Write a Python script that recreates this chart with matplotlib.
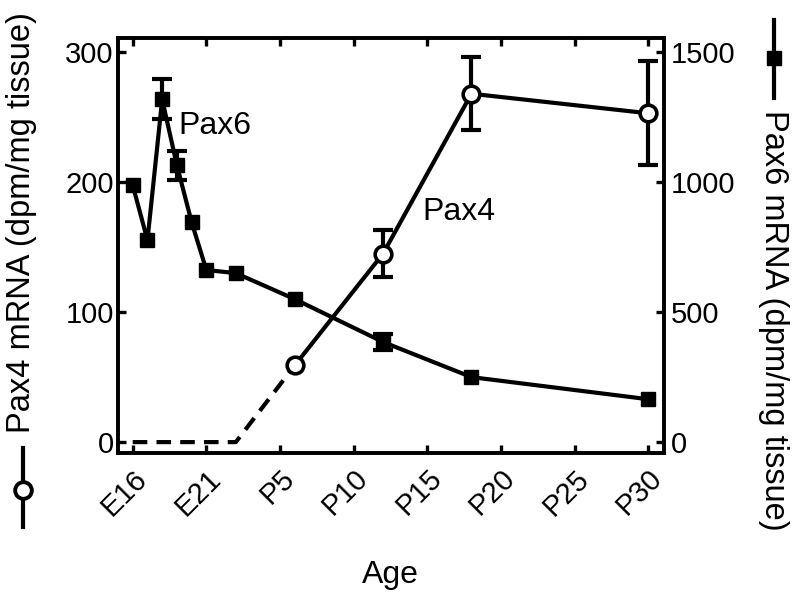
import matplotlib.pyplot as plt
from matplotlib.lines import Line2D
import numpy as np

plt.rcParams['font.family'] = ['Liberation Sans', 'DejaVu Sans']

# 横轴刻度 (E16 = 0, 每 5 天一格)
tick_pos = [0, 5, 10, 15, 20, 25, 30, 35]
tick_labels = ['E16', 'E21', 'P5', 'P10', 'P15', 'P20', 'P25', 'P30']

# Pax4 (左轴): 虚线段为检测不到的部分
pax4_dash_x = [0, 7, 11]
pax4_dash_y = [0, 0, 59]
pax4_x = [11, 17, 23, 35]
pax4_y = [59, 145, 268, 253]
pax4_err = [0, 18, 28, 40]

# Pax6 (右轴)
pax6_x = [0, 1, 2, 3, 4, 5, 7, 11, 17, 23, 35]
pax6_y = [988, 777, 1318, 1065, 846, 662, 650, 550, 385, 250, 165]
pax6_err = [0, 0, 77, 55, 0, 0, 0, 0, 31, 0, 0]

lw = 3.0
fig = plt.figure(figsize=(8, 6.01), dpi=100)
ax = fig.add_axes([0.1475, 0.246, 0.682, 0.691])
ax2 = ax.twinx()


def draw_series(a, x, y, err, **mk):
    x = np.array(x)
    y = np.array(y)
    err = np.array(err)
    m = err > 0
    a.errorbar(x[m], y[m], yerr=err[m], fmt='none', ecolor='black',
               elinewidth=lw, capsize=7.5, capthick=lw, zorder=2)
    a.plot(x, y, color='black', lw=lw, zorder=3, **mk)


ax.plot(pax4_dash_x, pax4_dash_y, color='black', lw=lw, ls=(0, (3.5, 2.2)), zorder=2)
draw_series(ax, pax4_x, pax4_y, pax4_err, marker='o', ms=12, mfc='white',
            mec='black', mew=2.6)
draw_series(ax2, pax6_x, pax6_y, pax6_err, marker='s', ms=9.5, mfc='black',
            mec='black')

ax.set_xlim(-1, 36.05)
ax.set_ylim(-8.5, 311)
ax2.set_ylim(-42.5, 1555)

ax.set_xticks(tick_pos)
ax.set_xticklabels(tick_labels, rotation=45, ha='right', rotation_mode='anchor')
ax.set_yticks([0, 100, 200, 300])
ax2.set_yticks([0, 500, 1000, 1500])

for a in (ax, ax2):
    for s in a.spines.values():
        s.set_linewidth(2.6)
ax.tick_params(axis='x', top=True, direction='in', length=6, width=2.4,
               labelsize=21, pad=8)
ax.tick_params(axis='y', direction='in', length=6, width=2.4, labelsize=21, pad=3)
ax2.tick_params(axis='y', direction='in', length=6, width=2.4, labelsize=21, pad=5)

ax.set_xlabel('Age', fontsize=23, labelpad=28)

ax.text(3.1, 243, 'Pax6', fontsize=23, va='center', ha='left')
ax.text(19.7, 177, 'Pax4', fontsize=23, va='center', ha='left')

# 轴标题与图例符号
fig.text(22 / 800, 1 - 223 / 601, 'Pax4 mRNA (dpm/mg tissue)', rotation=90,
         fontsize=23.5, ha='center', va='center')
fig.text(774 / 800, 1 - 320 / 601, 'Pax6 mRNA (dpm/mg tissue)', rotation=270,
         fontsize=23.5, ha='center', va='center')

fig.add_artist(Line2D([23 / 800, 23 / 800], [1 - 448 / 601, 1 - 527 / 601],
                      color='black', lw=lw, transform=fig.transFigure))
fig.add_artist(Line2D([23 / 800], [1 - 490 / 601], marker='o', ms=12, mfc='white',
                      mec='black', mew=2.8, transform=fig.transFigure))
fig.add_artist(Line2D([774 / 800, 774 / 800], [1 - 20 / 601, 1 - 98 / 601],
                      color='black', lw=lw, transform=fig.transFigure))
fig.add_artist(Line2D([774 / 800], [1 - 58 / 601], marker='s', ms=9.5, mfc='black',
                      mec='black', transform=fig.transFigure))

fig.savefig('out.png', dpi=100)
